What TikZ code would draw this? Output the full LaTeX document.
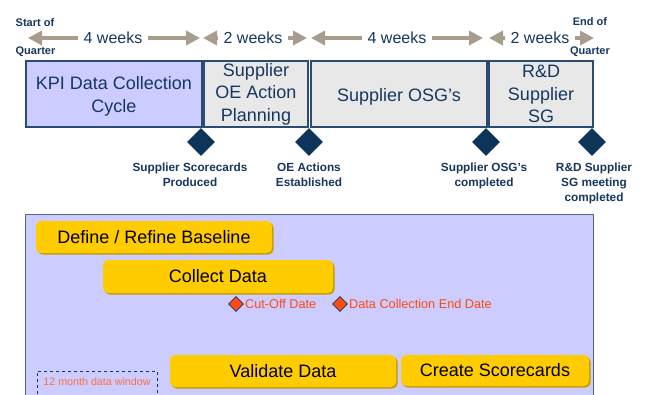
\documentclass[tikz,border=0pt]{standalone}
\usepackage{fontspec}
\setmainfont{Liberation Sans}
\usetikzlibrary{arrows.meta,shapes.geometric,shadows}
\definecolor{navy}{HTML}{17375E}
\definecolor{boxline}{HTML}{2B4C70}
\definecolor{mile}{HTML}{0D3459}
\definecolor{lav}{HTML}{CCCCFF}
\definecolor{greybox}{HTML}{E8E8E8}
\definecolor{arrowc}{HTML}{A89C8C}
\definecolor{barc}{HTML}{FFCC00}
\definecolor{barshadow}{HTML}{C89A00}
\definecolor{redtxt}{HTML}{FF4A12}
\definecolor{panelline}{HTML}{4E6488}
\tikzset{
  topbox/.style={draw=boxline, line width=1.3pt, fill=greybox, text=navy, align=center,
    font=\fontsize{18}{22.5}\selectfont, inner sep=0pt},
  spanarrow/.style={draw=arrowc, line width=4pt, {Triangle[length=14pt,width=14pt]}-{Triangle[length=14pt,width=14pt]}},
  spantext/.style={fill=white, text=navy, font=\fontsize{16}{19}\selectfont, inner xsep=6pt, inner ysep=1pt},
  endtext/.style={text=navy, font=\fontsize{11}{13}\selectfont\bfseries, inner sep=0pt},
  milediamond/.style={diamond, fill=mile, minimum width=28pt, minimum height=28pt, inner sep=0pt},
  miletext/.style={text=navy, font=\fontsize{11.8}{14.8}\selectfont\bfseries, align=center, inner sep=0pt, anchor=north},
  bar/.style={rounded corners=5pt, fill=barc, text=black, font=\fontsize{18}{22}\selectfont, inner sep=0pt,
    drop shadow={fill=barshadow, opacity=1, shadow xshift=1.5pt, shadow yshift=-1.5pt}},
  smalldiamond/.style={diamond, fill=redtxt, draw=navy, line width=0.8pt, minimum width=15pt, minimum height=15pt, inner sep=0pt},
  datetext/.style={text=redtxt, font=\fontsize{12.7}{15}\selectfont, anchor=west, inner sep=0pt},
}
\begin{document}
\begin{tikzpicture}[x=1pt,y=-1pt]
\clip (0,0) rectangle (645,394);
\fill[white] (0,0) rectangle (645,394);

% quarter labels
\node[endtext] (start1) at (35,23) {Start of};
\node[endtext] (start2) at (35.5,52) {Quarter};
\node[endtext] (end1) at (590,22) {End of};
\node[endtext] (end2) at (590,52) {Quarter};

% span arrows
\coordinate (a1l) at (28,38);  \coordinate (a1r) at (200,38);
\coordinate (a2l) at (203,38); \coordinate (a2r) at (307,38);
\coordinate (a3l) at (311,38); \coordinate (a3r) at (483,38);
\coordinate (a4l) at (489,38); \coordinate (a4r) at (594,38);
\draw[spanarrow] (a1l) -- (a1r);
\draw[spanarrow] (a2l) -- (a2r);
\draw[spanarrow] (a3l) -- (a3r);
\draw[spanarrow] (a4l) -- (a4r);
\node[spantext] (w1) at (113,38) {4 weeks};
\node[spantext] (w2) at (253,38) {2 weeks};
\node[spantext] (w3) at (397,38) {4 weeks};
\node[spantext] (w4) at (540,38) {2 weeks};

% phase boxes
\node[topbox, fill=lav, minimum width=176pt, minimum height=66pt] (kpi) at (114,94) {};
\node[text=navy, align=center, font=\fontsize{18}{22.5}\selectfont, inner sep=0pt] (kpitext) at (114,96.5) {KPI Data Collection\\Cycle};
\node[topbox, minimum width=104pt, minimum height=66pt] (oe) at (256,94) {Supplier\\OE Action\\Planning};
\node[topbox, minimum width=176pt, minimum height=66pt] (osg) at (399,94) {};
\node[text=navy, font=\fontsize{18}{22.5}\selectfont, inner sep=0pt] (osgtext) at (399,96.5) {Supplier OSG’s};
\node[topbox, minimum width=104pt, minimum height=66pt] (rd) at (541,94) {R\&D\\Supplier\\SG};

% milestones
\node[milediamond] (m1) at (201,142) {};
\node[milediamond] (m2) at (309,142) {};
\node[milediamond] (m3) at (486,142) {};
\node[milediamond] (m4) at (592,142) {};
\node[miletext] (t1) at (190,163) {Supplier Scorecards\\Produced};
\node[miletext] (t2) at (309,163) {OE Actions\\Established};
\node[miletext] (t3) at (484,163) {Supplier OSG's\\completed};
\node[miletext] (t4) at (594,163) {R\&D Supplier\\SG meeting\\completed};

% lower panel
\draw[draw=panelline, line width=1.2pt, fill=lav] (25.5,214.5) rectangle (593.5,410);

\node[bar, minimum width=236pt, minimum height=32pt] (define) at (154,237) {Define / Refine Baseline};
\node[bar, minimum width=230pt, minimum height=33pt] (collect) at (218,276.5) {Collect Data};
\node[bar, minimum width=226pt, minimum height=32pt] (validate) at (283,371) {Validate Data};
\node[bar, minimum width=188pt, minimum height=31pt] (create) at (495,370.5) {Create Scorecards};

\node[smalldiamond] (cut) at (236,304) {};
\node[datetext] (cuttext) at (245,304) {Cut-Off Date};
\node[smalldiamond] (endd) at (340,304) {};
\node[datetext] (endtext) at (349,304) {Data Collection End Date};

\node[draw=navy, dashed, line width=0.8pt, minimum width=120pt, minimum height=34pt, anchor=north west,
  inner sep=0pt] (window) at (37,371) {};
\node[text=redtxt!80!white, font=\fontsize{10.7}{12}\selectfont, inner sep=0pt] (windowtext) at (97,382) {12 month data window};
\end{tikzpicture}
\end{document}
